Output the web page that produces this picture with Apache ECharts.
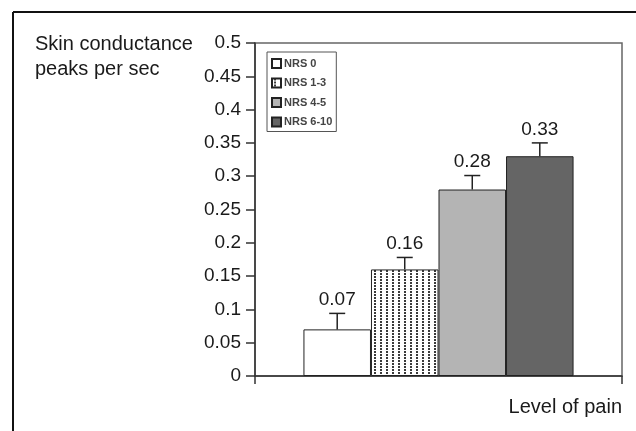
<!DOCTYPE html>
<html>
<head>
<meta charset="utf-8">
<script src="https://cdn.jsdelivr.net/npm/echarts@6/dist/echarts.min.js"></script>
<style>html,body{margin:0;padding:0;background:#fff}#c{width:636px;height:431px}</style>
</head>
<body>
<div id="c"></div>
<script>
var seriesNames = ['NRS 0', 'NRS 1-3', 'NRS 4-5', 'NRS 6-10'];
var values = [0.07, 0.16, 0.28, 0.33];
var errors = [0.024, 0.018, 0.021, 0.02];
var valueLabels = ['0.07', '0.16', '0.28', '0.33'];
var categories = [''];
var yTicks = { min: 0, max: 0.5, interval: 0.05 };
var yName = ['Skin conductance', 'peaks per sec'];
var xName = 'Level of pain';

var BAR_FRAC = 0.184;
var FONT = 'Liberation Sans, Arial, Helvetica, sans-serif';

// dotted vertical-line pattern
var pc = document.createElement('canvas');
pc.width = 6; pc.height = 3;
var g = pc.getContext('2d');
g.fillStyle = '#ffffff'; g.fillRect(0, 0, 6, 3);
g.fillStyle = '#3a3a3a'; g.fillRect(2, 0, 2, 2);

var fills = ['#ffffff', { image: pc, repeat: 'repeat' }, '#b4b4b4', '#656565'];

var series = seriesNames.map(function (n, i) {
  return {
    name: n, type: 'bar', barWidth: (BAR_FRAC * 100) + '%', barGap: '0%',
    data: [values[i]],
    itemStyle: { color: fills[i], borderColor: '#222', borderWidth: 1 },
    z: 2
  };
});

series.push({
  type: 'custom', name: 'err', z: 5, silent: true,
  data: values.map(function (v, i) { return [0, v, errors[i], i]; }),
  renderItem: function (params, api) {
    var v = api.value(1), e = api.value(2), idx = api.value(3);
    var base = api.coord([0, v]);
    var band = api.size([1, 0])[0];
    var bw = band * BAR_FRAC;
    var x = base[0] + (idx - 1.5) * bw;
    var top = api.coord([0, v + e])[1];
    return {
      type: 'group',
      children: [
        { type: 'line', shape: { x1: x, y1: base[1], x2: x, y2: top }, style: { stroke: '#222', lineWidth: 1.5 } },
        { type: 'line', shape: { x1: x - 8, y1: top, x2: x + 8, y2: top }, style: { stroke: '#222', lineWidth: 1.5 } },
        { type: 'text', style: { text: valueLabels[idx], x: x, y: top - 4, textAlign: 'center', textVerticalAlign: 'bottom', font: '19px ' + FONT, fill: '#1a1a1a' } }
      ]
    };
  }
});

var chart = echarts.init(document.getElementById('c'));
chart.setOption({
  animation: false,
  backgroundColor: '#ffffff',
  grid: { left: 255, top: 43, right: 14, bottom: 55, show: true, borderColor: '#666', borderWidth: 1.5, backgroundColor: 'transparent' },
  legend: {
    data: seriesNames, orient: 'vertical', left: 267, top: 52,
    itemWidth: 9, itemHeight: 9, itemGap: 8.5, icon: 'rect',
    padding: [6, 4, 4, 4],
    borderColor: '#555', borderWidth: 1, backgroundColor: '#fff',
    textStyle: { fontSize: 11, fontWeight: 'bold', color: '#444', fontFamily: FONT, padding: [0, 0, 0, -2] }
  },
  xAxis: {
    type: 'category', data: categories, boundaryGap: true,
    axisLine: { lineStyle: { color: '#333', width: 1.5 } },
    axisTick: { show: true, length: 8, lineStyle: { color: '#333', width: 1.5 } },
    axisLabel: { show: false }
  },
  yAxis: {
    type: 'value', min: yTicks.min, max: yTicks.max, interval: yTicks.interval,
    axisLine: { show: true, lineStyle: { color: '#333', width: 1.5 } },
    axisTick: { show: true, length: 9, lineStyle: { color: '#333', width: 1.5 } },
    axisLabel: { margin: 14, fontSize: 19, color: '#1a1a1a', fontFamily: FONT },
    splitLine: { show: false }
  },
  graphic: [
    { type: 'line', shape: { x1: 13, y1: 12, x2: 636, y2: 12 }, style: { stroke: '#111', lineWidth: 2 } },
    { type: 'line', shape: { x1: 13, y1: 12, x2: 13, y2: 431 }, style: { stroke: '#111', lineWidth: 2 } },
    { type: 'text', left: 35, top: 32, style: { text: yName.join('\n'), font: '20px ' + FONT, fill: '#1a1a1a', lineHeight: 25 } },
    { type: 'text', right: 14, top: 397, style: { text: xName, font: '20px ' + FONT, fill: '#1a1a1a' } }
  ],
  series: series
});
</script>
</body>
</html>
